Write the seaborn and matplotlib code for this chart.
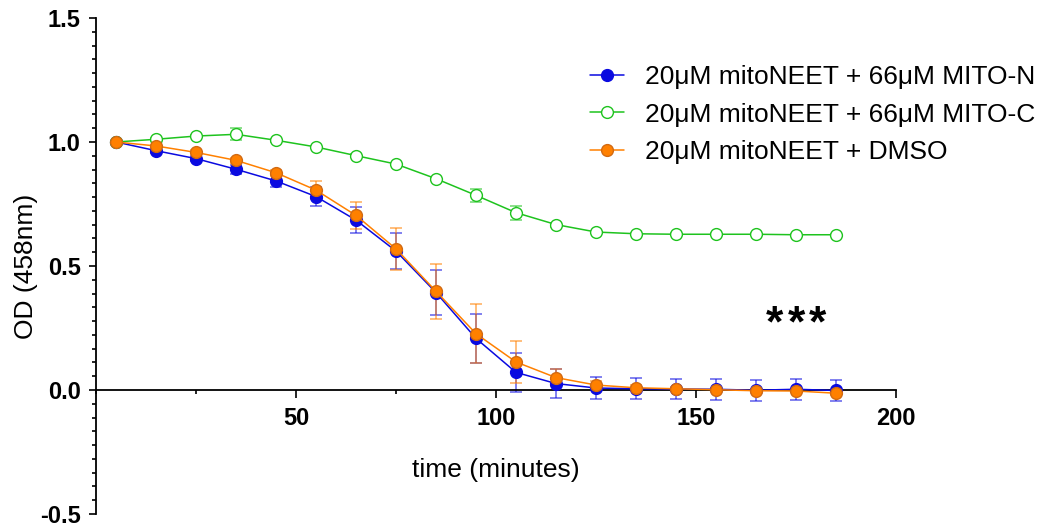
import numpy as np
import pandas as pd
import matplotlib
matplotlib.use('Agg')
import matplotlib.pyplot as plt
from matplotlib.ticker import MultipleLocator, AutoMinorLocator
import seaborn as sns

# Data
TIME = [5, 15, 25, 35, 45, 55, 65, 75, 85, 95, 105, 115, 125, 135, 145, 155, 165, 175, 185]

MITO_N = [1.0, 0.965, 0.933, 0.890, 0.843, 0.780, 0.685, 0.560, 0.393, 0.208, 0.071,
          0.026, 0.008, 0.005, 0.004, 0.003, -0.001, 0.003, -0.002]
MITO_N_SD = [0.0, 0.008, 0.010, 0.018, 0.025, 0.037, 0.052, 0.073, 0.090, 0.100, 0.080,
             0.058, 0.045, 0.043, 0.042, 0.043, 0.042, 0.043, 0.042]

MITO_C = [1.0, 1.011, 1.024, 1.031, 1.007, 0.980, 0.945, 0.911, 0.852, 0.785, 0.715,
          0.667, 0.637, 0.630, 0.628, 0.628, 0.628, 0.626, 0.626]
MITO_C_SD = [0.0, 0.005, 0.005, 0.024, 0.006, 0.005, 0.005, 0.005, 0.006, 0.027, 0.028,
             0.008, 0.004, 0.004, 0.004, 0.004, 0.004, 0.004, 0.004]

DMSO = [1.0, 0.984, 0.958, 0.926, 0.876, 0.806, 0.704, 0.569, 0.398, 0.227, 0.113,
        0.050, 0.020, 0.009, 0.005, 0.001, -0.003, -0.004, -0.013]
DMSO_SD = [0.0, 0.005, 0.008, 0.010, 0.012, 0.035, 0.056, 0.084, 0.110, 0.120, 0.085,
           0.034, 0.015, 0.010, 0.008, 0.006, 0.006, 0.006, 0.008]

LABELS = ['20\u03bcM mitoNEET + 66\u03bcM MITO-N',
          '20\u03bcM mitoNEET + 66\u03bcM MITO-C',
          '20\u03bcM mitoNEET + DMSO']

sns.set_style("ticks")
plt.rcParams['font.family'] = ['Liberation Sans', 'DejaVu Sans']
plt.rcParams['axes.unicode_minus'] = False
plt.rcParams['text.color'] = 'black'
plt.rcParams['axes.labelcolor'] = 'black'
plt.rcParams['xtick.color'] = 'black'
plt.rcParams['ytick.color'] = 'black'

BLUE = '#0a0ae0'
GREEN = '#1ec31e'
ORANGE = '#ff8000'


def build_frame():
    frames = []
    for label, y, sd in zip(LABELS, [MITO_N, MITO_C, DMSO], [MITO_N_SD, MITO_C_SD, DMSO_SD]):
        frames.append(pd.DataFrame({'time': TIME, 'od': y, 'sd': sd, 'group': label}))
    return pd.concat(frames, ignore_index=True)


def plot_od(df):
    fig = plt.figure(figsize=(10.54, 5.30), dpi=100)
    ax = fig.add_axes([96 / 1054, 1 - 514 / 530, 800 / 1054, 496 / 530])

    styles = {
        LABELS[0]: dict(color=BLUE, mfc=BLUE, mec=BLUE),
        LABELS[1]: dict(color=GREEN, mfc='white', mec=GREEN),
        LABELS[2]: dict(color=ORANGE, mfc=ORANGE, mec='#d26a12'),
    }

    for i, label in enumerate(LABELS):
        sub = df[df['group'] == label]
        st = styles[label]
        # error bars (SD) behind the markers
        ax.errorbar(sub['time'], sub['od'], yerr=sub['sd'], fmt='none',
                    ecolor=st['color'], elinewidth=1.1, capsize=4.5, capthick=1.1,
                    alpha=0.65, zorder=2 + i)
        sns.lineplot(data=sub, x='time', y='od', ax=ax, color=st['color'],
                     marker='o', markersize=8.5, markerfacecolor=st['mfc'],
                     markeredgecolor=st['mec'], markeredgewidth=1.0,
                     linewidth=1.1, label=label, zorder=5 + i)

    ax.set_xlim(0, 200)
    ax.set_ylim(-0.5, 1.5)

    # Prism-like axes: x axis crosses at y = 0
    ax.spines['top'].set_visible(False)
    ax.spines['right'].set_visible(False)
    ax.spines['bottom'].set_position(('data', 0))
    for sp in ['left', 'bottom']:
        ax.spines[sp].set_linewidth(1.3)
        ax.spines[sp].set_color('black')

    ax.xaxis.set_major_locator(MultipleLocator(50))
    ax.xaxis.set_minor_locator(AutoMinorLocator(2))
    ax.yaxis.set_major_locator(MultipleLocator(0.5))
    ax.yaxis.set_minor_locator(AutoMinorLocator(9))
    ax.set_xticks([50, 100, 150, 200])
    ax.set_yticks([-0.5, 0.0, 0.5, 1.0, 1.5])
    ax.set_yticklabels(['-0.5', '0.0', '0.5', '1.0', '1.5'])

    ax.tick_params(axis='x', which='major', length=6, width=1.2, pad=6,
                   labelsize=17, direction='out')
    ax.tick_params(axis='x', which='minor', length=3, width=1.2, direction='out')
    ax.tick_params(axis='y', which='major', length=5, width=1.2, pad=6,
                   labelsize=17, direction='out')
    ax.tick_params(axis='y', which='minor', length=3, width=1.2, direction='out')
    for t in ax.get_xticklabels() + ax.get_yticklabels():
        t.set_fontweight('bold')

    ax.set_xlabel('time (minutes)', fontsize=19)
    ax.set_ylabel('OD (458nm)', fontsize=19)
    ax.xaxis.set_label_coords(0.5, 0.112)
    ax.yaxis.set_label_coords(-0.073, 0.5)

    # significance mark, three spaced asterisks
    for sx in [169.6, 175.0, 180.4]:
        ax.text(sx, 0.215, '*', fontsize=32, fontweight='bold',
                ha='center', va='baseline')

    ax.legend(loc='upper left', bbox_to_anchor=(590 / 1054, 1 - 65 / 530),
              bbox_transform=fig.transFigure, frameon=False, fontsize=19,
              handlelength=1.3, handletextpad=0.8, labelspacing=0.52,
              borderpad=0, borderaxespad=0)

    fig.savefig('out.png', dpi=100)
    plt.close(fig)


def main():
    df = build_frame()
    plot_od(df)


if __name__ == "__main__":
    main()
